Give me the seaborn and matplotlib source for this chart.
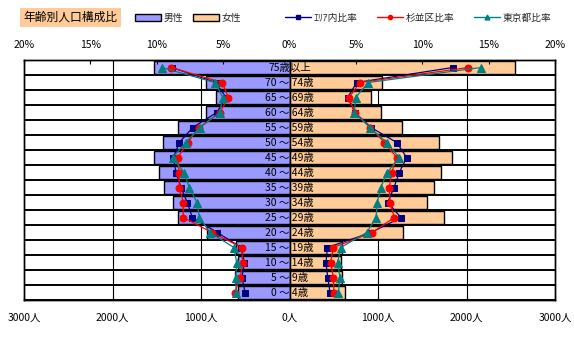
import numpy as np
import pandas as pd
import matplotlib
matplotlib.use("Agg")
import matplotlib.pyplot as plt
from matplotlib.patches import Rectangle, Patch
from matplotlib.lines import Line2D
import seaborn as sns

sns.set_theme(style="white")
plt.rcParams['font.family'] = ['Noto Sans CJK JP', 'DejaVu Sans']

AGES = ["75歳以上", "70 ～ 74歳", "65 ～ 69歳", "60 ～ 64歳", "55 ～ 59歳", "50 ～ 54歳",
        "45 ～ 49歳", "40 ～ 44歳", "35 ～ 39歳", "30 ～ 34歳", "25 ～ 29歳", "20 ～ 24歳",
        "15 ～ 19歳", "10 ～ 14歳", "5 ～ 9歳", "0 ～ 4歳"]

# population (people)
MALE = [1531, 947, 827, 947, 1263, 1426, 1528, 1471, 1415, 1320, 1263, 936, 605, 585, 619, 582]
FEMALE = [2551, 1049, 924, 1037, 1275, 1693, 1840, 1712, 1633, 1550, 1749, 1286, 597, 585, 597, 627]

# composition ratios (%)
AREA_M = [8.85, 5.56, 4.78, 5.48, 7.29, 8.30, 8.75, 8.55, 8.17, 7.70, 7.32, 5.44, 3.63, 3.40, 3.58, 3.35]
SUGI_M = [8.93, 5.06, 4.61, 5.24, 6.82, 7.67, 8.42, 8.32, 8.30, 8.00, 8.00, 5.84, 3.60, 3.53, 3.71, 4.11]
TOKYO_M = [9.63, 5.61, 5.03, 5.24, 6.74, 7.82, 8.80, 7.95, 7.55, 6.97, 6.79, 5.99, 4.18, 3.98, 4.05, 4.03]
AREA_F = [12.29, 5.06, 4.38, 4.93, 6.14, 8.08, 8.83, 8.27, 7.87, 7.40, 8.40, 6.14, 2.85, 2.75, 2.88, 3.05]
SUGI_F = [13.47, 5.31, 4.48, 4.90, 6.10, 7.14, 8.08, 7.70, 7.52, 7.57, 7.89, 6.24, 3.30, 3.10, 3.30, 3.35]
TOKYO_F = [14.43, 5.93, 4.99, 4.88, 6.06, 7.32, 8.25, 7.37, 6.87, 6.61, 6.52, 5.82, 3.86, 3.63, 3.80, 3.68]

BOTTOM_TICKS = [-3000, -2000, -1000, 0, 1000, 2000, 3000]
BOTTOM_LABELS = ["3000人", "2000人", "1000人", "0人", "1000人", "2000人", "3000人"]
TOP_TICKS = [-20, -15, -10, -5, 0, 5, 10, 15, 20]
TOP_LABELS = ["20%", "15%", "10%", "5%", "0%", "5%", "10%", "15%", "20%"]

TITLE = "年齢別人口構成比"
C_MALE, C_FEMALE = "#9999FF", "#FFCC99"
C_AREA, C_SUGI, C_TOKYO = "#000080", "#FF0000", "#008080"

df = pd.DataFrame({"age": AGES, "male": -np.array(MALE), "female": FEMALE})

fig = plt.figure(figsize=(5.74, 3.37), dpi=100)
ax = fig.add_axes([24/574, 1-300/337, 531/574, 240/337])

sns.barplot(data=df, x="male", y="age", order=AGES, color=C_MALE, edgecolor="black",
            linewidth=1, width=0.84, saturation=1, ax=ax, zorder=2)
sns.barplot(data=df, x="female", y="age", order=AGES, color=C_FEMALE, edgecolor="black",
            linewidth=1, width=0.84, saturation=1, ax=ax, zorder=2)

ax.set_xlim(-3000, 3000)
ax.set_ylim(len(AGES) - 0.5, -0.5)
ax.set_xticks(BOTTOM_TICKS)
ax.set_xticklabels(BOTTOM_LABELS, fontsize=7.5)
ax.set_yticks([])
ax.set_xlabel("")
ax.set_ylabel("")
ax.tick_params(axis="x", direction="in", length=3, width=0.8, color="black", pad=9.5, labelcolor="black")
for xv in [-2000, -1000, 1000, 2000]:
    ax.axvline(xv, color="black", lw=0.8, zorder=1)
ax.hlines(np.arange(len(AGES) + 1) - 0.5, -3000, 3000, color="black", lw=1.4, zorder=3)
ax.axvline(0, color="black", lw=0.9, zorder=4)
for s in ax.spines.values():
    s.set_color("black")
    s.set_linewidth(1)

for i, lab in enumerate(AGES):
    ax.text(0, i + 0.05, lab, ha="center", va="center", fontsize=7.5, color="#000000", zorder=5)

ax2 = ax.twiny()
ax2.set_xlim(-20, 20)
ypos = np.arange(len(AGES))
series = [
    (AREA_M, AREA_F, C_AREA, "s", 5),
    (SUGI_M, SUGI_F, C_SUGI, "o", 5),
    (TOKYO_M, TOKYO_F, C_TOKYO, "^", 5.5),
]
for m, f, c, mk, ms in series:
    for vals in (-np.array(m), np.array(f)):
        sns.lineplot(x=vals, y=ypos, sort=False, estimator=None, color=c, marker=mk,
                     markersize=ms, markeredgecolor=c, markerfacecolor=c, linewidth=0.9, ax=ax2)
ax2.set_ylim(len(AGES) - 0.5, -0.5)
ax2.set_xticks(TOP_TICKS)
ax2.set_xticklabels(TOP_LABELS, fontsize=7.5)
ax2.set_xlabel("")
ax2.set_ylabel("")
ax2.set_yticks([])
ax2.tick_params(axis="x", direction="in", length=3, width=0.8, color="black", pad=7.5, labelcolor="black")
for s in ax2.spines.values():
    s.set_color("black")
    s.set_linewidth(1)

# title box
fig.patches.append(Rectangle((20/574, 1-27/337), 101/574, 19/337, transform=fig.transFigure,
                             facecolor="#FFCC99", edgecolor="none"))
fig.text(70.5/574, 1-17.5/337, TITLE, ha="center", va="center", fontsize=8.5, color="black")

# legends
bar_handles = [Patch(facecolor=C_MALE, edgecolor="black", linewidth=1),
               Patch(facecolor=C_FEMALE, edgecolor="black", linewidth=1)]
leg1 = fig.legend(bar_handles, ["男性", "女性"], loc="center left",
                  bbox_to_anchor=(135/574, 1-17.5/337), ncol=2, frameon=False, fontsize=7,
                  borderpad=0, borderaxespad=0, handlelength=2.7, handleheight=0.7,
                  handletextpad=0.25, columnspacing=1.0)
line_handles = [Line2D([], [], color=C_AREA, marker="s", markersize=3, lw=1),
                Line2D([], [], color=C_SUGI, marker="o", markersize=3, lw=1),
                Line2D([], [], color=C_TOKYO, marker="^", markersize=3.5, lw=1)]
leg2 = fig.legend(line_handles, ["ｴﾘｱ内比率", "杉並区比率", "東京都比率"], loc="center left",
                  bbox_to_anchor=(285/574, 1-17.5/337), ncol=3, frameon=False, fontsize=7,
                  borderpad=0, borderaxespad=0, handlelength=2.7, handletextpad=0.25,
                  columnspacing=2.0)

fig.savefig("out.png", dpi=100, facecolor="white")
